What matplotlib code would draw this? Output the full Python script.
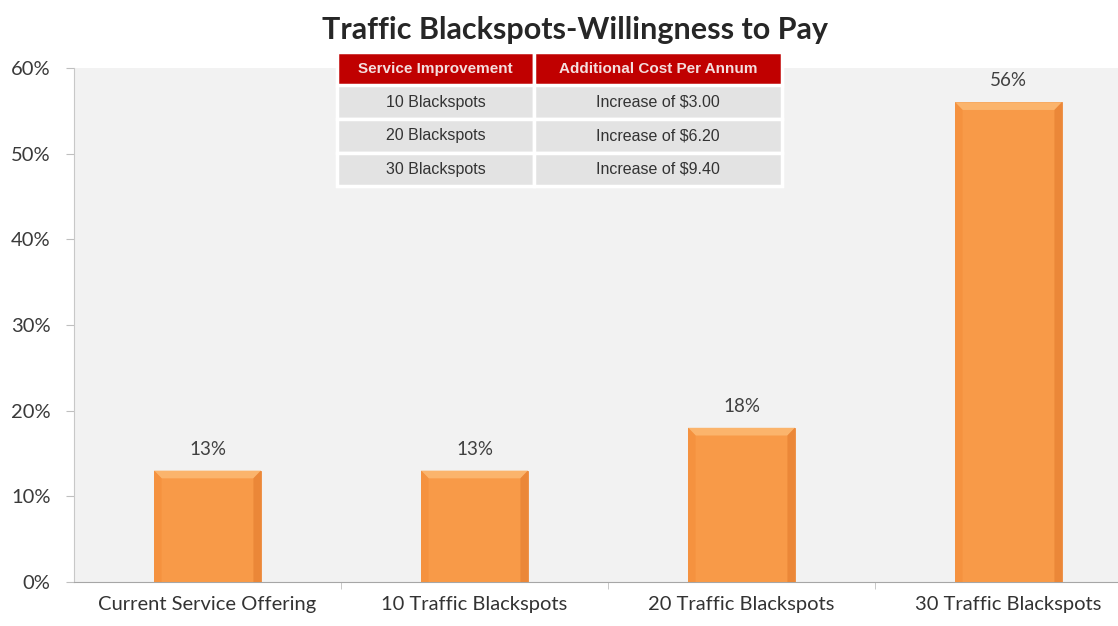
import matplotlib.pyplot as plt
from matplotlib.ticker import PercentFormatter, FixedLocator
from matplotlib.patches import Polygon

# Survey results
categories = ['Current Service Offering', '10 Traffic Blackspots',
              '20 Traffic Blackspots', '30 Traffic Blackspots']
shares = [13, 13, 18, 56]

# Cost table shown above the bars
table_header = ['Service Improvement', 'Additional Cost Per Annum']
table_rows = [['10 Blackspots', 'Increase of $3.00'],
              ['20 Blackspots', 'Increase of $6.20'],
              ['30 Blackspots', 'Increase of $9.40']]

plt.rcParams['font.family'] = ['Lato', 'DejaVu Sans']

fig = plt.figure(figsize=(11.18, 6.26), dpi=100)
fig.patch.set_facecolor('white')
# plot area runs a little past the right edge of the canvas
ax = fig.add_axes([74/1118, 44/626, 1068/1118, 514/626])
ax.set_facecolor('#f2f2f2')

x = range(len(categories))
bars = ax.bar(x, shares, width=0.4, color='#f89a48', edgecolor='#ec8a3c',
              linewidth=0.6, zorder=3)

# soft bevel: light top band, slightly darker sides
for b in bars:
    x0, w, h = b.get_x(), b.get_width(), b.get_height()
    dx, dy = w*0.07, 0.9
    top = Polygon([(x0, h), (x0 + w, h), (x0 + w - dx, h - dy), (x0 + dx, h - dy)],
                  closed=True, color='#fbb46c', lw=0, zorder=4)
    left = Polygon([(x0, 0), (x0, h), (x0 + dx, h - dy), (x0 + dx, 0)],
                   closed=True, color='#f5923f', lw=0, zorder=4)
    right = Polygon([(x0 + w, 0), (x0 + w, h), (x0 + w - dx, h - dy), (x0 + w - dx, 0)],
                    closed=True, color='#eb8738', lw=0, zorder=4)
    for p in (top, left, right):
        ax.add_patch(p)

for i, v in enumerate(shares):
    ax.text(i, v + 1.5, f'{v}%', ha='center', va='bottom', fontsize=13.5,
            color='#404040', zorder=5)

ax.set_xlim(-0.5, len(categories) - 0.5)
ax.set_ylim(0, 60)
ax.yaxis.set_major_locator(FixedLocator(range(0, 61, 10)))
ax.yaxis.set_major_formatter(PercentFormatter(decimals=0))
ax.set_xticks(list(x))
ax.set_xticklabels(categories, fontsize=14.5, color='#333333')
ax.xaxis.set_minor_locator(FixedLocator([0.5, 1.5, 2.5]))
ax.tick_params(axis='x', which='major', length=0, pad=10)
ax.tick_params(axis='x', which='minor', length=5, color='#bfbfbf')
ax.tick_params(axis='y', length=6, color='#bfbfbf', labelsize=14.5,
               labelcolor='#3a3a3a', pad=11)
for side in ['top', 'right']:
    ax.spines[side].set_visible(False)
ax.spines['left'].set_color('#c8c8c8')
ax.spines['bottom'].set_color('#a6a6a6')

fig.text(575/1118, 1 - 30/626, 'Traffic Blackspots-Willingness to Pay',
         ha='center', va='center', fontsize=22, fontweight='bold',
         color='#262626')

# cost table
tab = ax.table(cellText=table_rows, colLabels=table_header,
               cellLoc='center', colWidths=[0.185, 0.232],
               bbox=[(337-74)/1068, (582-186)/514, 445/1068, 134/514])
tab.auto_set_font_size(False)
for (r, c), cell in tab.get_celld().items():
    cell.set_edgecolor('white')
    cell.set_linewidth(2.5)
    txt = cell.get_text()
    txt.set_fontfamily(['Liberation Sans', 'DejaVu Sans'])
    if r == 0:
        cell.set_facecolor('#c00000')
        txt.set_color('#f4dede')
        txt.set_fontweight('bold')
        txt.set_fontsize(11)
    else:
        cell.set_facecolor('#e3e3e3')
        txt.set_color('#333333')
        txt.set_fontsize(11.5)
tab.set_zorder(6)

fig.savefig('out.png', dpi=100)
